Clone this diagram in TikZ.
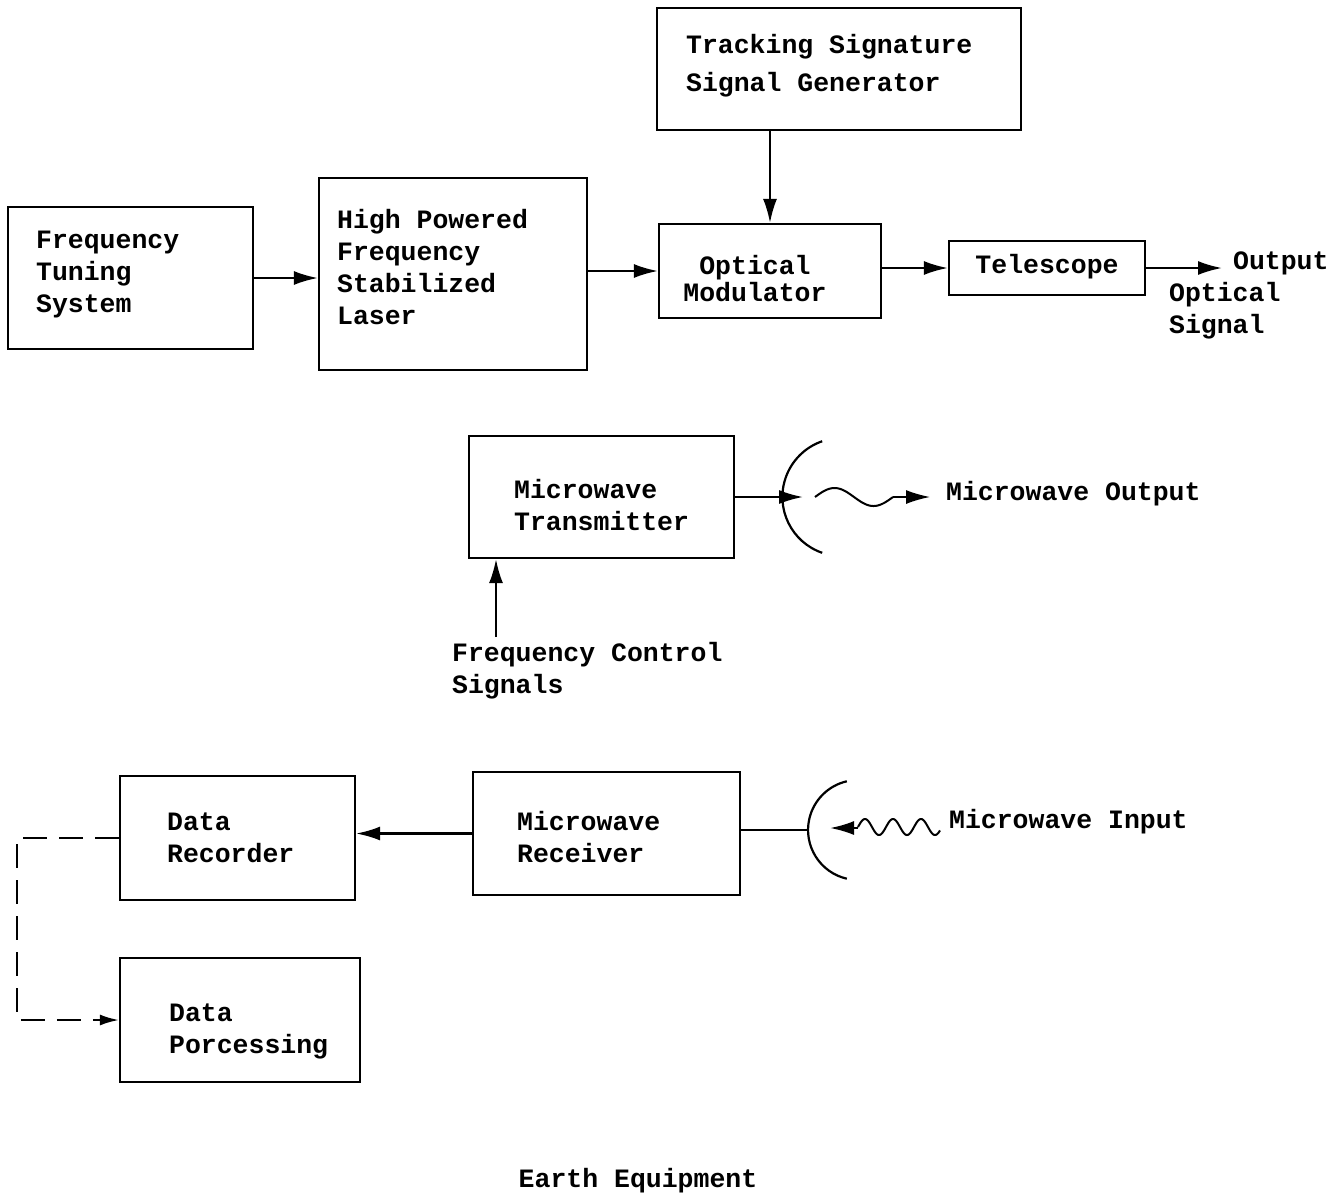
\documentclass[tikz,border=0pt]{standalone}
\usepackage{fontspec}
\newfontfamily\tw{Liberation Mono}
\usetikzlibrary{arrows.meta}
\begin{document}
\begin{tikzpicture}[x=1pt,y=-1pt,line width=2.2pt,
  box/.style={draw,line width=2.2pt,inner sep=0},
  lbl/.style={inner sep=0,align=left,font=\tw\bfseries\fontsize{26.5}{32}\selectfont},
  arr/.style={-{Latex[length=24pt,width=14pt]}},
  darr/.style={dash pattern=on 24pt off 12pt,-{Latex[length=19pt,width=11pt]}},
  wave/.style={line width=2pt}
]
\useasboundingbox (0,0) rectangle (1341,1195);
% boxes
\node[box,minimum width=364,minimum height=122] (tsg) at (839,69) {};
\node[box,minimum width=245,minimum height=142] (fts) at (130.5,278) {};
\node[box,minimum width=268,minimum height=192] (hp) at (453,274) {};
\node[box,minimum width=222,minimum height=94] (om) at (770,271) {};
\node[box,minimum width=196,minimum height=54] (tel) at (1047,268) {};
\node[box,minimum width=265,minimum height=122] (mt) at (601.5,497) {};
\node[box,minimum width=267,minimum height=123] (mr) at (606.5,833.5) {};
\node[box,minimum width=235,minimum height=124] (dr) at (237.5,838) {};
\node[box,minimum width=240,minimum height=124] (dp) at (240,1020) {};
% texts
\node[lbl,anchor=west] (tsgT) at (685,66) {Tracking Signature\\[6pt]Signal Generator};
\node[lbl,anchor=west] (ftsT) at (35,275) {Frequency\\Tuning\\System};
\node[lbl,anchor=west] (hpT) at (336,267) {High Powered\\Frequency\\Stabilized\\Laser};
\node[lbl,align=center] (omT) at (755,279) {Optical\\[-5pt]Modulator};
\node[lbl] (telT) at (1047,267) {Telescope};
\node[lbl,anchor=west] (outT) at (1232,263) {Output};
\node[lbl,anchor=west] (osT) at (1168,311) {Optical\\Signal};
\node[lbl,anchor=west] (mtT) at (513,505) {Microwave\\Transmitter};
\node[lbl,anchor=west] (moT) at (945,494) {Microwave Output};
\node[lbl,anchor=west] (fcT) at (451,671) {Frequency Control\\Signals};
\node[lbl,anchor=west] (mrT) at (516,837) {Microwave\\Receiver};
\node[lbl,anchor=west] (miT) at (948,822) {Microwave Input};
\node[lbl,anchor=west] (drT) at (166,838) {Data\\Recorder};
\node[lbl,anchor=west] (dpT) at (168,1031) {Data\\Porcessing};
\node[lbl] (eeT) at (638,1181) {Earth Equipment};
% coordinates
\coordinate (out1) at (1222,268);
\coordinate (dish1) at (803,497);
\coordinate (dish2) at (808,830);
\coordinate (fc) at (496,637);
\coordinate (w1s) at (815,497);
\coordinate (w1e) at (893,497);
\coordinate (w1t) at (930,497);
\coordinate (w2s) at (858,827);
\coordinate (w2e) at (858,828);
\coordinate (w2t) at (830,828);
% connectors
\draw[arr] (fts.east) -- (hp.west |- fts.east);
\draw[arr] (hp.east |- om.west) -- (om.west);
\draw[arr] (om.north |- tsg.south) -- (om.north);
\draw[arr] (om.east |- tel.west) -- (tel.west);
\draw[arr] (tel.east) -- (out1);
\draw[arr] (mt.east) -- (dish1);
\draw[arr] (fc) -- (fc |- mt.south);
\draw[arr] (mr.west) -- (dr.east |- mr.west);
\draw (mr.east |- dish2) -- (dish2);
\draw[darr] (dr.west) -- ++(-102,0) |- (dp.west);
% dishes
\draw (dish1) ++(19.2,55.8) arc[start angle=109,end angle=251,radius=59];
\draw (dish2) ++(38.8,48.7) arc[start angle=103,end angle=257,radius=50];
% waves
\draw[wave,shift={(w1s)}] plot[domain=0:78,samples=80,smooth] (\x,{-9*sin(\x*4.615)});
\draw[arr,line width=1.6pt] (w1e) -- (w1t);
\draw[wave,shift={(w2s)}] plot[domain=0:82,samples=100,smooth] (\x,{-8*sin(\x*12.857)});
\draw[arr] (w2e) -- (w2t);
\end{tikzpicture}
\end{document}
